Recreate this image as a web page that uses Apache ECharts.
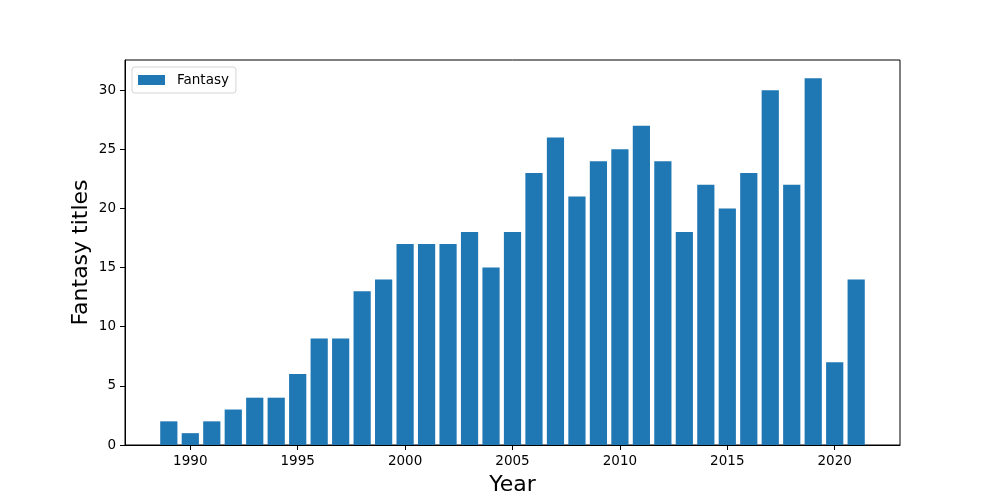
<!DOCTYPE html>
<html>
<head>
<meta charset="utf-8">
<script src="https://cdn.jsdelivr.net/npm/echarts@6/dist/echarts.min.js"></script>
<style>html,body{margin:0;padding:0;background:#fff;}#c{width:1000px;height:500px;}</style>
</head>
<body>
<div id="c"></div>
<script>
const years = [1989,1990,1991,1992,1993,1994,1995,1996,1997,1998,1999,2000,2001,2002,2003,2004,2005,2006,2007,2008,2009,2010,2011,2012,2013,2014,2015,2016,2017,2018,2019,2020,2021];
const fantasy = [2,1,2,3,4,4,6,9,9,13,14,17,17,17,18,15,18,23,26,21,24,25,27,24,18,22,20,23,30,22,31,7,14];
const xTicks = [1990,1995,2000,2005,2010,2015,2020];
const yTicks = [0,5,10,15,20,25,30];
const seriesName = 'Fantasy';
const xTitle = 'Year';
const yTitle = 'Fantasy titles';

const chart = echarts.init(document.getElementById('c'), null, {renderer:'canvas'});
const font = 'DejaVu Sans';
chart.setOption({
  animation: false,
  backgroundColor: '#fff',
  grid: {left:125, right:100, top:60, bottom:55, show:true, borderColor:'#000', borderWidth:1, backgroundColor:'transparent', containLabel:false, outerBoundsMode:'none'},
  legend: {
    left: 132, top: 67, orient:'vertical',
    padding: [6,7,6,6],
    itemWidth: 27, itemHeight: 10,
    backgroundColor:'#fff', borderColor:'#d5d5d5', borderWidth:1, borderRadius:3,
    textStyle: {fontFamily:font, fontSize:13.5, color:'#000', padding:[0,0,0,7]},
    data: [{name: seriesName, icon:'rect'}]
  },
  xAxis: {
    type:'value', min:1986.96, max:2023.04,
    name: xTitle, nameLocation:'middle', nameGap:29, nameMoveOverlap:false,
    nameTextStyle:{fontFamily:font, fontSize:22, color:'#000'},
    axisLine:{show:true, lineStyle:{color:'#000', width:1}},
    axisTick:{show:true, length:5, customValues: xTicks, lineStyle:{color:'#000'}},
    axisLabel:{fontFamily:font, fontSize:13.5, color:'#000', margin:9, customValues: xTicks, formatter: v => String(v)},
    splitLine:{show:false}
  },
  yAxis: {
    type:'value', min:0, max:32.55,
    name: yTitle, nameLocation:'middle', nameGap:33, nameMoveOverlap:false,
    nameTextStyle:{fontFamily:font, fontSize:22, color:'#000'},
    axisLine:{show:true, lineStyle:{color:'#000', width:1}},
    axisTick:{show:true, length:5, customValues: yTicks, lineStyle:{color:'#000'}},
    axisLabel:{fontFamily:font, fontSize:13.5, color:'#000', margin:9, customValues: yTicks, formatter: v => String(v)},
    splitLine:{show:false}
  },
  series: [{
    name: seriesName, type:'bar',
    data: years.map((y,i)=>[y, fantasy[i]]),
    barWidth: 17.2,
    itemStyle:{color:'#1f77b4'}
  }]
});
</script>
</body>
</html>
